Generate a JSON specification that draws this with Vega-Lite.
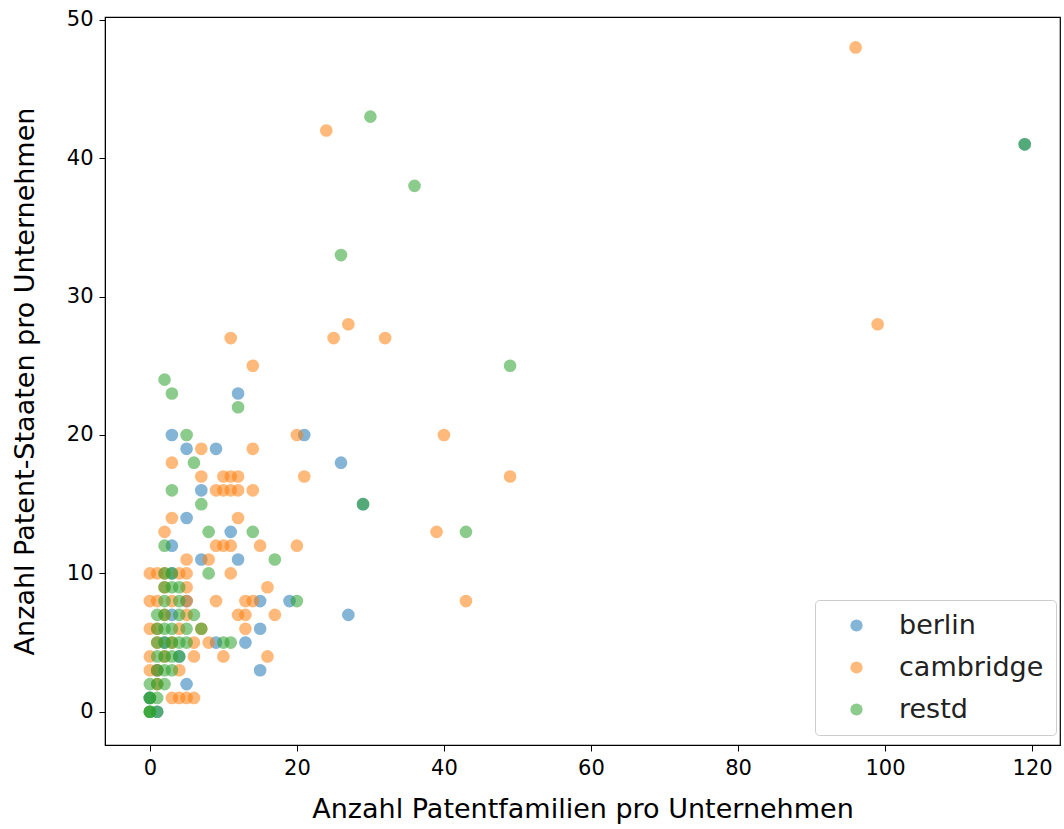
{
  "$schema": "https://vega.github.io/schema/vega-lite/v6.json",
  "width": 955,
  "height": 728,
  "autosize": "none",
  "padding": {"left": 105, "top": 17, "right": 4, "bottom": 84},
  "background": "white",
  "config": {
    "font": "DejaVu Sans",
    "view": {"stroke": "black", "strokeWidth": 1.2},
    "axis": {"grid": false, "domainColor": "black", "tickColor": "black", "labelColor": "black", "titleColor": "black", "labelFontSize": 21, "titleFontSize": 27, "titleFontWeight": "normal", "tickSize": 6, "labelPadding": 6, "domain": true}
  },
  "datasets": {
    "pts": [
      {"g": "berlin", "x": 119, "y": 41}, {"g": "berlin", "x": 12, "y": 23}, {"g": "berlin", "x": 21, "y": 20}, {"g": "berlin", "x": 3, "y": 20},
      {"g": "berlin", "x": 9, "y": 19}, {"g": "berlin", "x": 5, "y": 19}, {"g": "berlin", "x": 26, "y": 18}, {"g": "berlin", "x": 29, "y": 15},
      {"g": "berlin", "x": 7, "y": 16}, {"g": "berlin", "x": 5, "y": 14}, {"g": "berlin", "x": 3, "y": 12}, {"g": "berlin", "x": 11, "y": 13},
      {"g": "berlin", "x": 12, "y": 11}, {"g": "berlin", "x": 7, "y": 11}, {"g": "berlin", "x": 15, "y": 8}, {"g": "berlin", "x": 19, "y": 8},
      {"g": "berlin", "x": 27, "y": 7}, {"g": "berlin", "x": 15, "y": 6}, {"g": "berlin", "x": 13, "y": 5}, {"g": "berlin", "x": 9, "y": 5},
      {"g": "berlin", "x": 15, "y": 3}, {"g": "berlin", "x": 5, "y": 2}, {"g": "berlin", "x": 4, "y": 4}, {"g": "berlin", "x": 3, "y": 7},
      {"g": "berlin", "x": 5, "y": 8}, {"g": "berlin", "x": 1, "y": 3}, {"g": "berlin", "x": 2, "y": 5}, {"g": "berlin", "x": 3, "y": 10},
      {"g": "berlin", "x": 0, "y": 1}, {"g": "berlin", "x": 1, "y": 0},
      {"g": "cambridge", "x": 96, "y": 48}, {"g": "cambridge", "x": 24, "y": 42}, {"g": "cambridge", "x": 99, "y": 28}, {"g": "cambridge", "x": 27, "y": 28},
      {"g": "cambridge", "x": 25, "y": 27}, {"g": "cambridge", "x": 32, "y": 27}, {"g": "cambridge", "x": 11, "y": 27}, {"g": "cambridge", "x": 14, "y": 25},
      {"g": "cambridge", "x": 40, "y": 20}, {"g": "cambridge", "x": 20, "y": 20}, {"g": "cambridge", "x": 14, "y": 19}, {"g": "cambridge", "x": 7, "y": 19},
      {"g": "cambridge", "x": 3, "y": 18}, {"g": "cambridge", "x": 49, "y": 17}, {"g": "cambridge", "x": 21, "y": 17}, {"g": "cambridge", "x": 7, "y": 17},
      {"g": "cambridge", "x": 10, "y": 17}, {"g": "cambridge", "x": 11, "y": 17}, {"g": "cambridge", "x": 12, "y": 17}, {"g": "cambridge", "x": 10, "y": 16},
      {"g": "cambridge", "x": 11, "y": 16}, {"g": "cambridge", "x": 12, "y": 16}, {"g": "cambridge", "x": 14, "y": 16}, {"g": "cambridge", "x": 9, "y": 16},
      {"g": "cambridge", "x": 3, "y": 14}, {"g": "cambridge", "x": 12, "y": 14}, {"g": "cambridge", "x": 2, "y": 13}, {"g": "cambridge", "x": 39, "y": 13},
      {"g": "cambridge", "x": 15, "y": 12}, {"g": "cambridge", "x": 20, "y": 12}, {"g": "cambridge", "x": 9, "y": 12}, {"g": "cambridge", "x": 10, "y": 12},
      {"g": "cambridge", "x": 11, "y": 12}, {"g": "cambridge", "x": 5, "y": 11}, {"g": "cambridge", "x": 8, "y": 11}, {"g": "cambridge", "x": 16, "y": 9},
      {"g": "cambridge", "x": 43, "y": 8}, {"g": "cambridge", "x": 9, "y": 8}, {"g": "cambridge", "x": 13, "y": 8}, {"g": "cambridge", "x": 14, "y": 8},
      {"g": "cambridge", "x": 17, "y": 7}, {"g": "cambridge", "x": 13, "y": 7}, {"g": "cambridge", "x": 13, "y": 6}, {"g": "cambridge", "x": 16, "y": 4},
      {"g": "cambridge", "x": 10, "y": 4}, {"g": "cambridge", "x": 0, "y": 10}, {"g": "cambridge", "x": 1, "y": 10}, {"g": "cambridge", "x": 2, "y": 10},
      {"g": "cambridge", "x": 4, "y": 10}, {"g": "cambridge", "x": 5, "y": 10}, {"g": "cambridge", "x": 11, "y": 10}, {"g": "cambridge", "x": 6, "y": 5},
      {"g": "cambridge", "x": 4, "y": 1}, {"g": "cambridge", "x": 5, "y": 1}, {"g": "cambridge", "x": 6, "y": 1}, {"g": "cambridge", "x": 3, "y": 1},
      {"g": "cambridge", "x": 0, "y": 8}, {"g": "cambridge", "x": 1, "y": 8}, {"g": "cambridge", "x": 3, "y": 8}, {"g": "cambridge", "x": 0, "y": 6},
      {"g": "cambridge", "x": 1, "y": 5}, {"g": "cambridge", "x": 2, "y": 4}, {"g": "cambridge", "x": 0, "y": 3}, {"g": "cambridge", "x": 1, "y": 2},
      {"g": "cambridge", "x": 2, "y": 7}, {"g": "cambridge", "x": 4, "y": 6}, {"g": "cambridge", "x": 5, "y": 7}, {"g": "cambridge", "x": 3, "y": 5},
      {"g": "cambridge", "x": 1, "y": 6}, {"g": "cambridge", "x": 2, "y": 9}, {"g": "cambridge", "x": 5, "y": 9}, {"g": "cambridge", "x": 6, "y": 4},
      {"g": "cambridge", "x": 8, "y": 5}, {"g": "cambridge", "x": 12, "y": 7}, {"g": "cambridge", "x": 4, "y": 3}, {"g": "cambridge", "x": 5, "y": 8},
      {"g": "cambridge", "x": 7, "y": 6}, {"g": "cambridge", "x": 0, "y": 4}, {"g": "cambridge", "x": 1, "y": 3},
      {"g": "restd", "x": 30, "y": 43}, {"g": "restd", "x": 36, "y": 38}, {"g": "restd", "x": 26, "y": 33}, {"g": "restd", "x": 49, "y": 25},
      {"g": "restd", "x": 43, "y": 13}, {"g": "restd", "x": 2, "y": 24}, {"g": "restd", "x": 3, "y": 23}, {"g": "restd", "x": 12, "y": 22},
      {"g": "restd", "x": 5, "y": 20}, {"g": "restd", "x": 6, "y": 18}, {"g": "restd", "x": 3, "y": 16}, {"g": "restd", "x": 7, "y": 15},
      {"g": "restd", "x": 8, "y": 13}, {"g": "restd", "x": 14, "y": 13}, {"g": "restd", "x": 2, "y": 12}, {"g": "restd", "x": 17, "y": 11},
      {"g": "restd", "x": 8, "y": 10}, {"g": "restd", "x": 20, "y": 8}, {"g": "restd", "x": 29, "y": 15}, {"g": "restd", "x": 119, "y": 41},
      {"g": "restd", "x": 7, "y": 6}, {"g": "restd", "x": 4, "y": 7}, {"g": "restd", "x": 10, "y": 5}, {"g": "restd", "x": 11, "y": 5},
      {"g": "restd", "x": 0, "y": 0}, {"g": "restd", "x": 0, "y": 0}, {"g": "restd", "x": 0, "y": 0}, {"g": "restd", "x": 0, "y": 1},
      {"g": "restd", "x": 0, "y": 2}, {"g": "restd", "x": 1, "y": 1}, {"g": "restd", "x": 1, "y": 2}, {"g": "restd", "x": 1, "y": 3},
      {"g": "restd", "x": 1, "y": 4}, {"g": "restd", "x": 1, "y": 5}, {"g": "restd", "x": 2, "y": 2}, {"g": "restd", "x": 2, "y": 3},
      {"g": "restd", "x": 2, "y": 4}, {"g": "restd", "x": 2, "y": 5}, {"g": "restd", "x": 2, "y": 6}, {"g": "restd", "x": 2, "y": 7},
      {"g": "restd", "x": 2, "y": 8}, {"g": "restd", "x": 3, "y": 3}, {"g": "restd", "x": 3, "y": 4}, {"g": "restd", "x": 3, "y": 5},
      {"g": "restd", "x": 3, "y": 6}, {"g": "restd", "x": 4, "y": 5}, {"g": "restd", "x": 4, "y": 4}, {"g": "restd", "x": 5, "y": 6},
      {"g": "restd", "x": 3, "y": 9}, {"g": "restd", "x": 3, "y": 10}, {"g": "restd", "x": 4, "y": 9}, {"g": "restd", "x": 1, "y": 6},
      {"g": "restd", "x": 1, "y": 7}, {"g": "restd", "x": 2, "y": 9}, {"g": "restd", "x": 2, "y": 10}, {"g": "restd", "x": 4, "y": 8},
      {"g": "restd", "x": 5, "y": 5}, {"g": "restd", "x": 6, "y": 7}, {"g": "restd", "x": 1, "y": 0}, {"g": "restd", "x": 0, "y": 1}
    ]
  },
  "data": {"name": "pts"},
  "mark": {"type": "circle", "size": 160, "opacity": 0.55},
  "encoding": {
    "x": {"field": "x", "type": "quantitative", "scale": {"domain": [-6.1, 123.8], "nice": false, "zero": false},
      "axis": {"values": [0, 20, 40, 60, 80, 100, 120], "title": "Anzahl Patentfamilien pro Unternehmen", "titlePadding": 18}},
    "y": {"field": "y", "type": "quantitative", "scale": {"domain": [-2.4, 50.2], "nice": false, "zero": false},
      "axis": {"values": [0, 10, 20, 30, 40, 50], "title": "Anzahl Patent-Staaten pro Unternehmen", "titlePadding": 27}},
    "color": {"field": "g", "type": "nominal", "title": null,
      "scale": {"domain": ["berlin", "cambridge", "restd"], "range": ["#1f77b4", "#ff7f0e", "#2ca02c"]},
      "legend": {"orient": "none", "legendX": 710, "legendY": 583, "labelFontSize": 27, "labelColor": "#222222", "symbolType": "circle", "symbolSize": 150, "symbolOpacity": 0.55, "symbolStrokeWidth": 0, "symbolOffset": 16, "strokeColor": "#cccccc", "fillColor": "white", "cornerRadius": 4, "padding": 12, "rowPadding": 14, "labelOffset": 29, "offset": 0}}
  }
}
